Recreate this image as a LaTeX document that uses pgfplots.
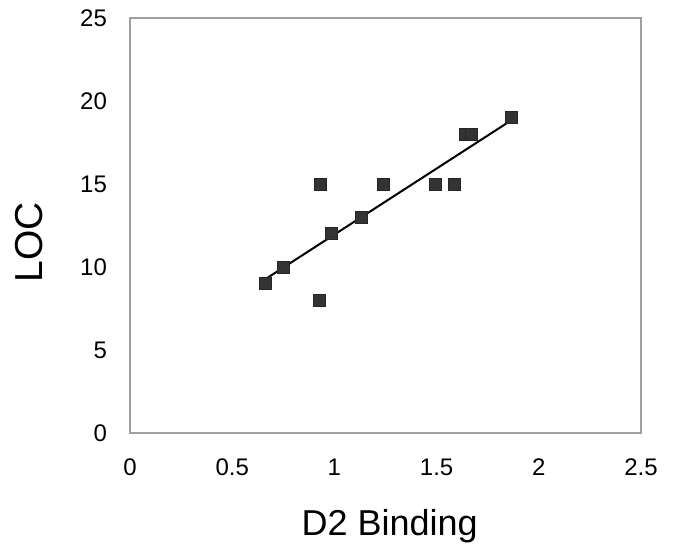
\documentclass[border=0pt]{standalone}
\usepackage{fontspec}
\setmainfont{Liberation Sans}
\usepackage{pgfplots}
\pgfplotsset{compat=1.18}

\definecolor{framegray}{HTML}{A0A0A0}
\definecolor{markdark}{HTML}{333333}

\begin{document}
\begin{tikzpicture}
  \useasboundingbox (-65pt,-56pt) rectangle (272.5pt,216.5pt);
  \begin{axis}[
      at={(0,0)}, anchor=south west,
      scale only axis,
      width=255.5pt, height=207.5pt,
      xmin=0, xmax=2.5, ymin=0, ymax=25,
      xtick={0,0.5,...,2.5}, ytick={0,5,...,25},
      major tick length=0pt,
      axis line style={framegray, line width=0.9pt},
      /pgf/number format/assume math mode=true,
      tick label style={font=\fontsize{12}{14}\selectfont},
      xticklabel style={yshift=-9.5pt},
      yticklabel style={xshift=-8pt},
      xlabel={D2 Binding}, ylabel={LOC},
      xlabel style={font=\fontsize{18}{21}\selectfont,
                    at={(axis description cs:0.508,-0.225)}, anchor=center},
      ylabel style={font=\fontsize{19.5}{22}\selectfont,
                    at={(axis description cs:-0.198,0.46)}, anchor=center, rotate=0},
      clip=false,
    ]
    \addplot[only marks, mark=square*, mark size=3pt,
             mark options={fill=markdark, draw=black!85, line width=0.3pt}]
      coordinates {
        (0.66,9) (0.75,10) (0.926,8) (0.93,15) (0.987,12) (1.13,13)
        (1.24,15) (1.495,15) (1.587,15) (1.64,18) (1.67,18) (1.867,19)
      };
    \addplot[black, line width=1pt] coordinates {(0.66,9.25) (1.867,18.85)};
  \end{axis}
\end{tikzpicture}
\end{document}
